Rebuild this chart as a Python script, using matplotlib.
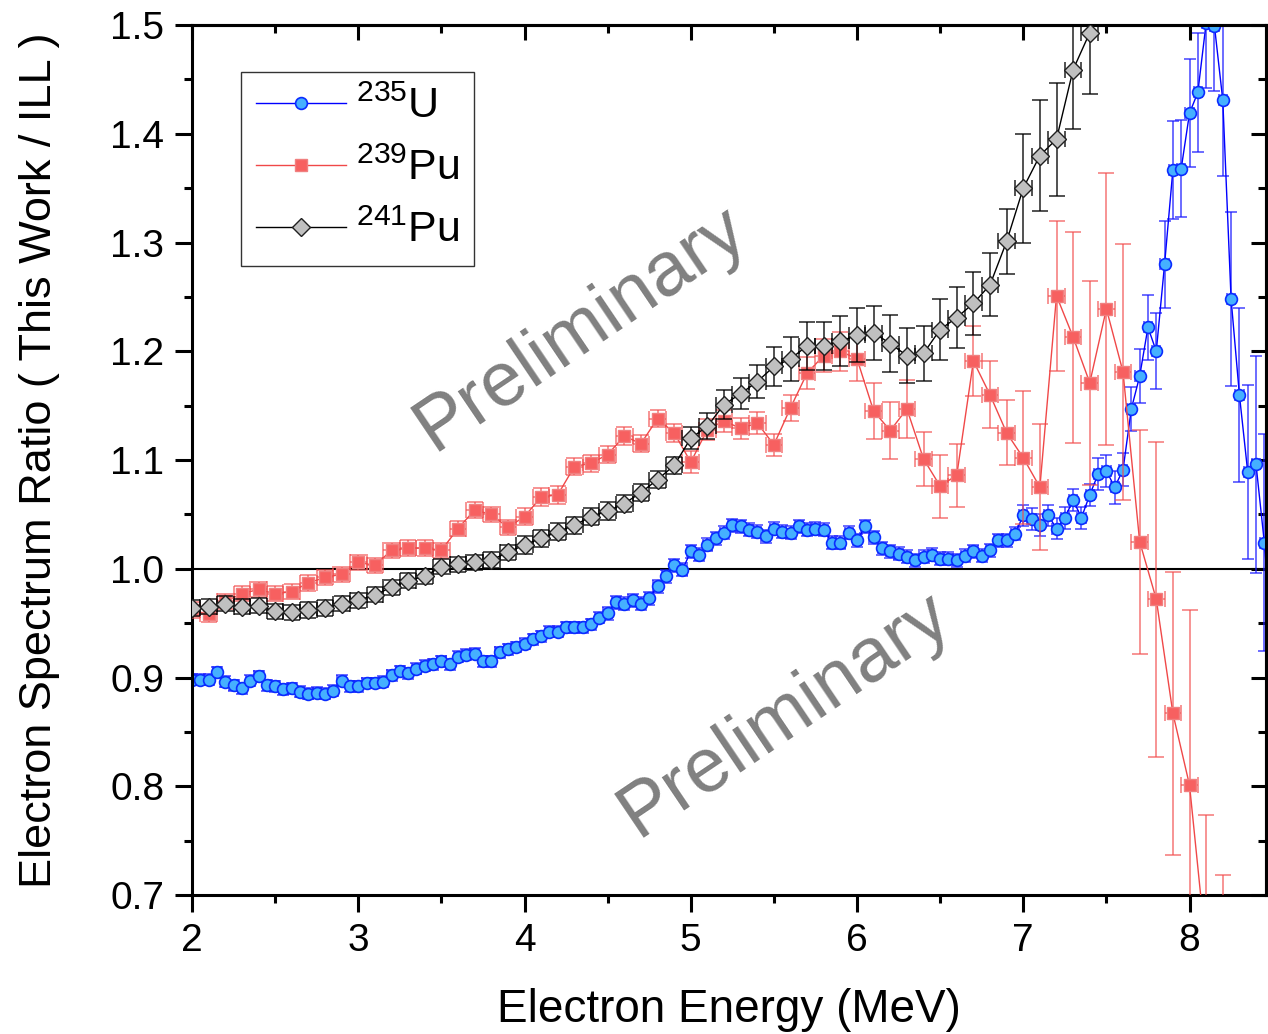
import matplotlib
matplotlib.use('Agg')
import matplotlib.pyplot as plt
import numpy as np

plt.rcParams['font.family'] = ['Liberation Sans', 'DejaVu Sans']
plt.rcParams['mathtext.fontset'] = 'custom'
plt.rcParams['mathtext.rm'] = 'Liberation Sans'
plt.rcParams['mathtext.it'] = 'Liberation Sans:italic'
plt.rcParams['mathtext.default'] = 'regular'

# 235U ratio, 0.05 MeV bins starting at 2.0 MeV
u235_ratio = [0.898, 0.898, 0.898, 0.905, 0.896, 0.893, 0.890, 0.897, 0.901, 0.893,
              0.892, 0.889, 0.890, 0.887, 0.885, 0.886, 0.885, 0.888, 0.897, 0.892,
              0.892, 0.895, 0.895, 0.896, 0.902, 0.906, 0.904, 0.908, 0.911, 0.912,
              0.915, 0.912, 0.919, 0.921, 0.922, 0.915, 0.915, 0.923, 0.926, 0.928,
              0.931, 0.935, 0.938, 0.942, 0.942, 0.946, 0.946, 0.946, 0.949, 0.955,
              0.959, 0.969, 0.968, 0.971, 0.968, 0.973, 0.984, 0.993, 1.003, 0.999,
              1.016, 1.013, 1.022, 1.028, 1.033, 1.040, 1.039, 1.036, 1.034, 1.030,
              1.037, 1.034, 1.033, 1.039, 1.036, 1.037, 1.036, 1.024, 1.024, 1.033,
              1.026, 1.039, 1.029, 1.019, 1.016, 1.014, 1.011, 1.008, 1.011, 1.013,
              1.009, 1.009, 1.008, 1.012, 1.016, 1.012, 1.017, 1.026, 1.026, 1.032,
              1.049, 1.046, 1.040, 1.049, 1.037, 1.047, 1.063, 1.047, 1.068, 1.087,
              1.090, 1.075, 1.091, 1.147, 1.177, 1.222, 1.200, 1.280, 1.367, 1.368,
              1.419, 1.438, 1.502, 1.499, 1.431, 1.248, 1.160, 1.089, 1.096, 1.024,
              0.930]
u235_err = ([0.005] * 50 + [0.006] * 50 + [0.010] * 9 + [0.015] * 4 +
            [0.020, 0.025, 0.030, 0.035, 0.040, 0.045, 0.045, 0.050, 0.055,
             0.060, 0.060, 0.070, 0.080, 0.080, 0.080, 0.100, 0.100, 0.100])

# 239Pu ratio, 0.1 MeV bins starting at 2.0 MeV
pu239_ratio = [0.962, 0.958, 0.970, 0.977, 0.981, 0.977, 0.979, 0.987, 0.992, 0.995,
               1.006, 1.003, 1.017, 1.019, 1.019, 1.017, 1.037, 1.054, 1.050, 1.038,
               1.048, 1.066, 1.068, 1.094, 1.097, 1.105, 1.122, 1.115, 1.138, 1.125,
               1.098, 1.128, 1.136, 1.129, 1.134, 1.114, 1.148, 1.180, 1.196, 1.200,
               1.193, 1.145, 1.127, 1.147, 1.101, 1.076, 1.086, 1.191, 1.160, 1.125,
               1.102, 1.075, 1.251, 1.213, 1.171, 1.239, 1.181, 1.025, 0.972, 0.867,
               0.801, 0.650, 0.550]
pu239_err = ([0.007] * 20 + [0.008] * 10 + [0.010] * 6 +
             [0.012, 0.015, 0.015, 0.018, 0.020] +
             [0.026, 0.026, 0.027, 0.025, 0.029, 0.029, 0.032, 0.031, 0.030] +
             [0.061, 0.058, 0.069, 0.097, 0.094, 0.125, 0.118, 0.103, 0.145,
              0.130, 0.161, 0.124, 0.168])

# 241Pu ratio, 0.1 MeV bins starting at 2.0 MeV
pu241_ratio = [0.964, 0.965, 0.968, 0.965, 0.966, 0.961, 0.960, 0.962, 0.964, 0.968,
               0.971, 0.976, 0.983, 0.989, 0.993, 1.002, 1.004, 1.006, 1.008, 1.015,
               1.022, 1.028, 1.034, 1.040, 1.048, 1.053, 1.060, 1.070, 1.082, 1.095,
               1.120, 1.131, 1.151, 1.161, 1.172, 1.186, 1.193, 1.205, 1.205, 1.209,
               1.215, 1.217, 1.207, 1.196, 1.198, 1.220, 1.231, 1.244, 1.261, 1.301,
               1.350, 1.380, 1.395, 1.459, 1.493, 1.560]
pu241_err = ([0.007] * 20 + [0.008] * 10 +
             [0.010, 0.012, 0.013, 0.014, 0.015] +
             [0.018, 0.020, 0.022, 0.022, 0.023, 0.025] +
             [0.025, 0.026, 0.025, 0.025, 0.028, 0.028, 0.029, 0.029, 0.030] +
             [0.050, 0.051, 0.052, 0.055, 0.056, 0.060])

u235_energy = np.round(2.0 + 0.05 * np.arange(len(u235_ratio)), 2)
pu239_energy = np.round(2.0 + 0.1 * np.arange(len(pu239_ratio)), 2)
pu241_energy = np.round(2.0 + 0.1 * np.arange(len(pu241_ratio)), 2)

fig = plt.figure(figsize=(12.68, 10.34), dpi=100)
ax = fig.add_axes([192 / 1268, 1 - 895 / 1034, 1074 / 1268, 870 / 1034])

# 235U
ax.errorbar(u235_energy, u235_ratio, yerr=u235_err, xerr=0.025, fmt='none',
            ecolor=(0.1, 0.1, 1.0, 0.75), elinewidth=1.2, capsize=4, capthick=1.2, zorder=2)
ax.plot(u235_energy, u235_ratio, '-o', color='#0000ff', lw=1, ms=8.5,
        mfc='#45b0ff', mec='#0a2cff', mew=1.2, zorder=2.5, label=r'$^{235}$U')

# 239Pu
ax.errorbar(pu239_energy, pu239_ratio, yerr=pu239_err, xerr=0.05, fmt='none',
            ecolor=(0.95, 0.3, 0.3, 0.7), elinewidth=1.2, capsize=6, capthick=1.2, zorder=3)
ax.plot(pu239_energy, pu239_ratio, '-s', color='#f04848', lw=1, ms=8,
        mfc='#f76060', mec='#f08080', mew=1, zorder=3.5, label=r'$^{239}$Pu')

# 241Pu
ax.errorbar(pu241_energy, pu241_ratio, yerr=pu241_err, xerr=0.05, fmt='none',
            ecolor=(0, 0, 0, 0.8), elinewidth=1.2, capsize=6, capthick=1.2, zorder=4)
ax.plot(pu241_energy, pu241_ratio, '-D', color='#000000', lw=1, ms=9,
        mfc='#c0c0c0', mec='#202020', mew=1, zorder=4.5, label=r'$^{241}$Pu')

ax.axhline(1.0, color='black', lw=1.5, zorder=1)

ax.set_xlim(2, 8.46)
ax.set_ylim(0.7, 1.5)
ax.set_xticks([2, 3, 4, 5, 6, 7, 8])
ax.set_xticks(np.arange(2.5, 8.5, 1.0), minor=True)
ax.set_yticks(np.arange(0.7, 1.51, 0.1))
ax.set_yticks(np.arange(0.75, 1.5, 0.1), minor=True)
ax.yaxis.set_major_formatter(matplotlib.ticker.FormatStrFormatter('%.1f'))

for sp in ax.spines.values():
    sp.set_linewidth(2.2)
ax.tick_params(which='major', direction='out', length=12, width=2.2, labelsize=28, pad=8,
               top=False, right=False)
ax.tick_params(which='minor', direction='out', length=6, width=2.2, top=False, right=False)

top = ax.secondary_xaxis('top')
top.set_xticks([2, 3, 4, 5, 6, 7, 8])
top.set_xticks(np.arange(2.5, 8.5, 1.0), minor=True)
top.tick_params(which='major', direction='in', length=11, width=2.2, labeltop=False)
top.tick_params(which='minor', direction='in', length=6, width=2.2)
top.spines['top'].set_linewidth(2.2)

right = ax.secondary_yaxis('right')
right.set_yticks(np.arange(0.7, 1.51, 0.1))
right.set_yticks(np.arange(0.75, 1.5, 0.1), minor=True)
right.tick_params(which='major', direction='in', length=11, width=2.2, labelright=False)
right.tick_params(which='minor', direction='in', length=6, width=2.2)
right.spines['right'].set_linewidth(2.2)

ax.set_xlabel('Electron Energy (MeV)', fontsize=33, labelpad=21)
ax.set_ylabel('Electron Spectrum Ratio ( This Work / ILL )', fontsize=32.5, labelpad=36)

ax.text(4.34, 1.221, 'Preliminary', fontsize=55, color='#808080', rotation=34,
        ha='center', va='center', rotation_mode='anchor', zorder=1)
ax.text(5.57, 0.866, 'Preliminary', fontsize=55, color='#808080', rotation=34,
        ha='center', va='center', rotation_mode='anchor', zorder=1)

leg = ax.legend(loc='upper left', bbox_to_anchor=(0.0455, 0.946), borderaxespad=0,
                fontsize=31, frameon=True, fancybox=False, shadow=False,
                handlelength=2.1, handletextpad=0.22, labelspacing=0.5, borderpad=0.35)
leg.get_frame().set_edgecolor('black')
leg.get_frame().set_linewidth(1)

fig.savefig('out.png', dpi=100)
